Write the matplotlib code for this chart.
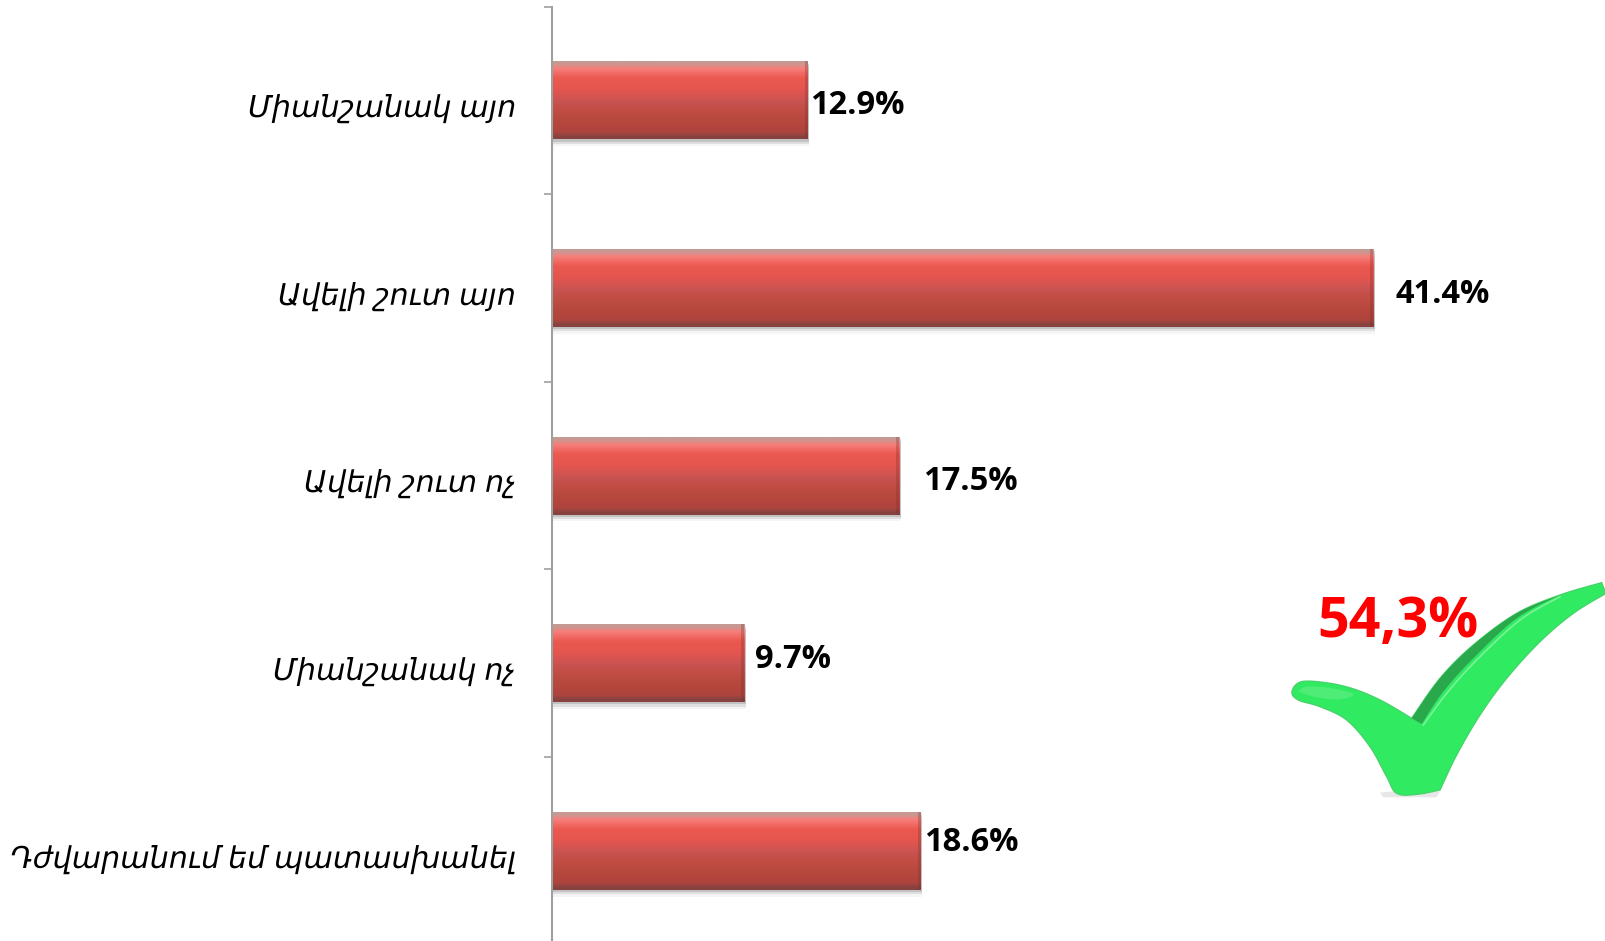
import numpy as np
import matplotlib
matplotlib.use("Agg")
import matplotlib.pyplot as plt
from matplotlib.patches import Polygon

labels = ["Միանշանակ այո", "Ավելի շուտ այո", "Ավելի շուտ ոչ", "Միանշանակ ոչ", "Դժվարանում եմ պատասխանել"]
values = [12.9, 41.4, 17.5, 9.7, 18.6]
value_labels = ["12.9%", "41.4%", "17.5%", "9.7%", "18.6%"]
total_label = "54,3%"

W, H = 1606, 941
px_per_unit = 821 / 41.4
fig = plt.figure(figsize=(W / 100, H / 100), dpi=100)
ax = fig.add_axes([552 / W, 0, 1 - 552 / W, 1 - 6.6 / H])
xlim = (0, (W - 552) / px_per_unit)
ylim = (4.48, -0.5)

y = np.arange(len(values))
bar_h = 0.415

# vertical shading: pale rim, light band, red body, dark bottom
grad = np.array([[0.78, 0.60, 0.58], [0.96, 0.50, 0.48], [0.95, 0.42, 0.40], [0.92, 0.35, 0.31],
                 [0.91, 0.34, 0.31], [0.90, 0.34, 0.31], [0.87, 0.33, 0.31], [0.82, 0.33, 0.32],
                 [0.78, 0.32, 0.31], [0.77, 0.31, 0.28], [0.75, 0.30, 0.26], [0.73, 0.29, 0.25],
                 [0.71, 0.28, 0.24], [0.70, 0.27, 0.24], [0.68, 0.27, 0.24], [0.53, 0.26, 0.25]])[:, None, :]
for yi, v in zip(y, values):
    # soft shadow under the bar
    for k, a in zip([0.012, 0.024, 0.036], [0.30, 0.18, 0.08]):
        ax.barh(yi + k, v + 0.08, height=bar_h, color="#808080", alpha=a, linewidth=0, zorder=1)
    ax.imshow(grad, extent=[0, v, yi + bar_h / 2, yi - bar_h / 2], aspect="auto", zorder=2,
              interpolation="bilinear")
    # slightly darker rim on the right end
    ax.barh(yi, 0.15, height=bar_h, left=v - 0.15, color="#7a3030", alpha=0.3, linewidth=0, zorder=3)
ax.set_xlim(*xlim)
ax.set_ylim(*ylim)

ax.spines[["top", "right", "bottom"]].set_visible(False)
ax.spines["left"].set_color("#a0a0a0")
ax.spines["left"].set_linewidth(1.5)
ax.set_xticks([])
ax.set_yticks(np.arange(-0.5, 4, 1))
ax.set_yticklabels([])
ax.tick_params(axis="y", length=6, width=1.2, color="#a0a0a0")

# category labels
for yi, lab in zip(y, labels):
    ax.annotate(lab, (0, yi), xytext=(-26, -6), textcoords="offset points", ha="right", va="center",
                fontsize=21.7, style="italic", family=["Noto Sans", "DejaVu Sans"], color="black")

# value labels, offsets in pixels from the bar end
offsets = [2, 23, 24, 11, 3]
y_off = [-5, -6, -6, 4, 8]
for yi, v, t, dx, dy in zip(y, values, value_labels, offsets, y_off):
    ax.annotate(t, (v, yi), xytext=(dx * 0.72, dy * 0.72), textcoords="offset points", ha="left",
                va="center", fontsize=23.5, fontweight="bold", family="Open Sans", color="black")


# smooth line through a few points (Catmull-Rom), ends stay sharp
def smooth(pts, n=12):
    p = np.array(pts, dtype=float)
    p = np.vstack([p[0], p, p[-1]])
    out = []
    for i in range(1, len(p) - 2):
        for t in np.linspace(0, 1, n, endpoint=False):
            a, b, c, d = p[i - 1], p[i], p[i + 1], p[i + 2]
            out.append(0.5 * (2 * b + (c - a) * t + (2 * a - 5 * b + 4 * c - d) * t ** 2
                              + (3 * b - a - 3 * c + d) * t ** 3))
    out.append(p[-1])
    return np.array(out)


# check mark outline traced in a 3x crop with origin (1240, 550)
def to_fig(pts):
    pts = np.asarray(pts, dtype=float)
    return np.column_stack([(1240 + pts[:, 0] / 3) / W, 1 - (550 + pts[:, 1] / 3) / H])


# starts at the crotch so that corner stays sharp
check_upper = [(515, 505), (600, 385), (700, 285), (830, 190), (960, 135), (1085, 98)]
check_lower = [(1098, 130), (1000, 190), (900, 275), (800, 385), (720, 495), (650, 615), (600, 720)]
check_bottom = [(600, 720), (530, 733), (470, 730), (440, 680), (390, 590), (320, 510), (240, 470), (175, 450),
                (156, 425), (185, 395), (270, 400), (350, 420), (430, 455), (515, 505)]
check = np.vstack([smooth(check_upper), smooth(check_lower), smooth(check_bottom)])
strip = np.vstack([smooth(check_upper[:5]), smooth([(960, 135), (830, 205), (700, 325), (610, 425), (545, 522)])])
shine = smooth([(175, 425), (200, 410), (270, 414), (340, 432), (300, 448), (230, 442), (175, 425)])
edge = smooth([(550, 525), (620, 430), (710, 330), (840, 210), (960, 140)])

fig.add_artist(Polygon(to_fig([(420, 728), (480, 722), (600, 724), (590, 742), (430, 742)]), closed=True,
                       color="#d8d8d8", alpha=0.6, linewidth=0, zorder=4))
fig.add_artist(Polygon(to_fig(check), closed=True, facecolor="#30ea62", edgecolor="#46d46a",
                       linewidth=1.0, zorder=5))
fig.add_artist(Polygon(to_fig(strip), closed=True, color="#2aa84c", linewidth=0, zorder=6))
fig.add_artist(Polygon(to_fig(shine), closed=True, color="#6ff08e", alpha=0.5, linewidth=0, zorder=6))
fig.add_artist(plt.Line2D(*to_fig(edge).T, color="#7cf29a", linewidth=1.2, zorder=6))

fig.text(1398 / W, 1 - 623 / H, total_label, ha="center", va="center", fontsize=40, fontweight="bold",
         family="Open Sans", color="#ff0000", zorder=8)

fig.savefig("out.png", dpi=100)
